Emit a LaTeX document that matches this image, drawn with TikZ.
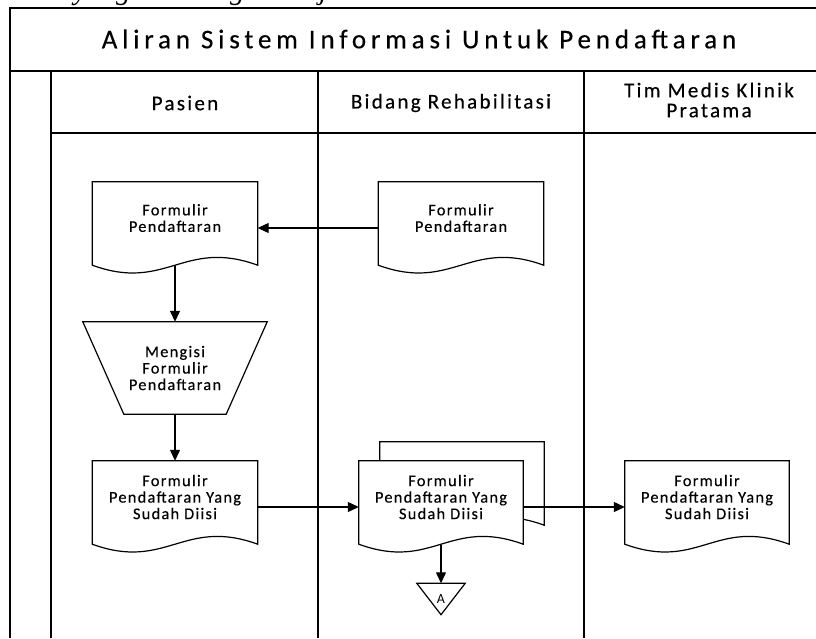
\documentclass[tikz,border=0pt]{standalone}
\usepackage{fontspec}
\setmainfont{Carlito}
\newfontfamily\titlefont[LetterSpace=18,FakeBold=0.4]{Carlito}
\newfontfamily\lanefont[LetterSpace=11,FakeBold=0.4]{Carlito}
\newfontfamily\boxfont[LetterSpace=8,FakeBold=0.3]{Carlito}
\newfontfamily\bodyfont{Liberation Serif}
\usetikzlibrary{arrows.meta,calc}
\pgfdeclarelayer{background}
\pgfsetlayers{background,main}

% document symbol with a wavy bottom, optionally offset by (#2,#3)
\newcommand\docoutline[3]{%
  \draw[shapeline]
    ($(#1.north west)+(#2,#3)$) -- ($(#1.north east)+(#2,#3)$)
    -- ($(#1.south east)+(#2,#3+11)$)
    .. controls ($(#1.south east)+(#2-74,#3-16)$) and ($(#1.south west)+(#2+74,#3+38)$)
    .. ($(#1.south west)+(#2,#3+11)$) -- cycle;}

\begin{document}
\begin{tikzpicture}[x=1pt,y=-1pt,
  frame/.style={line width=1.5pt},
  shapeline/.style={line width=1.2pt, fill=white},
  flow/.style={line width=1.2pt, -{Triangle[length=11pt,width=10pt]}},
  titletext/.style={inner sep=0pt, font=\titlefont\fontsize{27}{28}\selectfont},
  lanetext/.style={inner sep=0pt, align=center, font=\lanefont\fontsize{21}{20}\selectfont},
  docbox/.style={minimum width=165pt, minimum height=72pt, inner sep=0pt, align=center,
    font=\boxfont\fontsize{16.3}{16.5}\selectfont},
  manualbox/.style={minimum width=184pt, minimum height=92pt, inner sep=0pt, align=center,
    font=\boxfont\fontsize{16.3}{16.5}\selectfont},
  offpage/.style={minimum width=48pt, minimum height=31pt, inner sep=0pt,
    font=\fontsize{14}{14}\selectfont}]

\useasboundingbox (0,0) rectangle (816,638);
\begin{scope}
\clip (0,0) rectangle (816,638);

% running text of the page above the chart
\node[anchor=base west, inner sep=0pt, font=\bodyfont\itshape\fontsize{29}{29}\selectfont]
  (runtext) at (74,-1) {yang\hspace{32pt}sedang\hspace{36pt}berjalan};

% swimlane frame
\draw[frame] (10,638) -- (10,8) -- (816,8);
\draw[frame] (10,71) -- (816,71);
\draw[frame] (51,71) -- (51,638);
\draw[frame] (51,133) -- (816,133);
\draw[frame] (318,71) -- (318,638);
\draw[frame] (584,71) -- (584,638);

\node[titletext] (title) at (419,39) {Aliran Sistem Informasi Untuk Pendaftaran};
\node[lanetext] (lane1) at (185,103) {Pasien};
\node[lanetext] (lane2) at (451,103) {Bidang Rehabilitasi};
\node[lanetext] (lane3) at (709,100) {Tim Medis Klinik\\Pratama};

% flow symbols
\node[docbox] (formA) at (175,218) {Formulir\\Pendaftaran};
\node[docbox] (formB) at (461,218) {Formulir\\Pendaftaran};
\node[manualbox] (fillin) at (175,368) {Mengisi\\Formulir\\Pendaftaran};
\node[docbox] (filled) at (175,497) {Formulir\\Pendaftaran Yang\\Sudah Diisi};
\node[docbox, minimum width=164pt] (copies) at (441,497) {Formulir\\Pendaftaran Yang\\Sudah Diisi};
\node[docbox, minimum width=164pt] (medis) at (707,497) {Formulir\\Pendaftaran Yang\\Sudah Diisi};
\node[offpage] (conA) at (441,599) {A};

\begin{pgfonlayer}{background}
  \docoutline{formA}{0}{0}
  \docoutline{formB}{0}{0}
  \draw[shapeline] (fillin.north west) -- (fillin.north east)
    -- ($(fillin.south east)+(-41,0)$) -- ($(fillin.south west)+(41,0)$) -- cycle;
  \docoutline{filled}{0}{0}
  \docoutline{copies}{21}{-19}
  \docoutline{copies}{0}{0}
  \docoutline{medis}{0}{0}
  \draw[shapeline] (conA.north west) -- (conA.north east) -- (conA.south) -- cycle;
\end{pgfonlayer}

% connectors
\draw[flow] ($(formB.west)+(0,10)$) -- ($(formA.east)+(0,10)$);
\draw[flow] ($(formA.south)+(0,11)$) -- (fillin.north);
\draw[flow] (fillin.south) -- (filled.north);
\draw[flow] ($(filled.east)+(0,10)$) -- ($(copies.west)+(0,10)$);
\draw[flow] ($(copies.east)+(0,10)$) -- ($(medis.west)+(0,10)$);
\draw[flow] ($(copies.south)+(0,12)$) -- (conA.north);
\end{scope}
\end{tikzpicture}
\end{document}
